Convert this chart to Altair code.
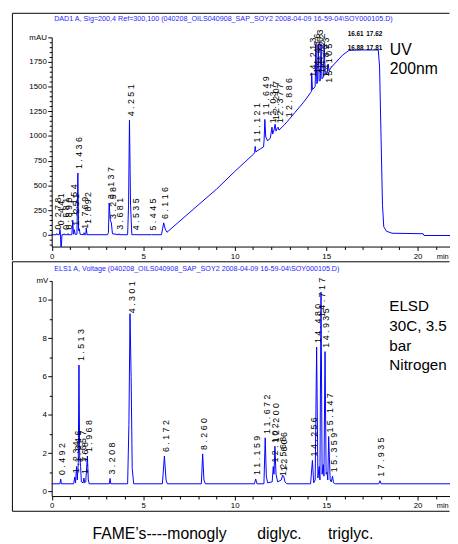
import altair as alt
import pandas as pd

# ---------------- data ----------------
# UV 200 nm trace (min, mAU)
uv_time = [0.00, 0.25, 0.28, 0.31, 0.42, 0.45, 0.48, 0.50, 0.53, 0.56, 0.66, 0.68, 0.71, 0.87, 0.89, 0.92,
           1.10, 1.15, 1.19, 1.24, 1.28, 1.38, 1.43, 1.47, 1.51, 1.55, 1.74, 1.77, 1.80, 1.86, 1.89, 1.93,
           3.05, 3.10, 3.14, 3.20, 3.26, 3.32, 3.66, 3.68, 3.71, 4.15, 4.20, 4.25, 4.31, 4.38, 4.52, 4.535, 4.55,
           5.43, 5.445, 5.46, 6.00, 6.06, 6.12, 6.20, 6.30, 8.00, 9.00, 10.00, 11.05, 11.09, 11.12, 11.16,
           11.40, 11.58, 11.61, 11.65, 11.70, 11.80, 11.95, 12.04, 12.08, 12.15, 12.21, 12.26, 12.33, 12.38,
           12.42, 12.70, 12.89, 13.30, 13.80, 14.15, 14.19, 14.21, 14.25, 14.40, 14.44, 14.49, 14.53, 14.57,
           14.62, 14.68, 14.72, 14.77, 14.86, 14.89, 14.95, 15.06, 15.11, 15.16, 15.25, 15.60, 15.90, 16.25,
           17.00, 17.85, 17.92, 18.00, 18.08, 18.15, 18.30, 18.60, 20.30, 20.35, 21.77]
uv_mau = [0, 0, 12, 0, 0, 55, 5, -120, -120, 0, 0, 10, 0, 0, 12, 0,
          0, 147, 5, 50, 5, 5, 625, 40, 60, 5, 0, 20, 0, 0, 70, 0,
          0, 20, 322, 150, 120, 10, 0, 10, 0, 0, 300, 1160, 300, 0, 0, 5, 0,
          0, 3, 0, 0, 60, 120, 60, 25, 300, 460, 640, 820, 830, 895, 840,
          870, 890, 960, 1168, 990, 950, 980, 1090, 1020, 1060, 1120, 1050, 1080, 1090,
          1060, 1110, 1150, 1240, 1350, 1440, 1450, 1640, 1470, 1500, 1935, 1530, 1540, 1935,
          1560, 1560, 1935, 1580, 1600, 1935, 1620, 1640, 1730, 1660, 1690, 1760, 1820, 1868,
          1872, 1872, 1700, 1000, 300, 80, 35, 15, 10, -8, -8]

# peak labels: retention time and the level where the integrator printed the label
uv_peak_rt = [0.278, 0.441, 0.681, 0.890, 1.154, 1.251, 1.436, 1.769, 1.892, 3.137, 3.258, 3.681,
              4.251, 4.535, 5.445, 6.116, 11.121, 11.649, 12.037, 12.207, 12.377, 12.886,
              14.213, 14.436, 14.563, 14.722, 14.893, 15.105]
uv_label_at = [12, 55, 10, 12, 147, 50, 625, 20, 70, 322, 120, 10,
               1160, 5, 3, 120, 895, 1168, 1090, 1120, 1090, 1150,
               1560, 1600, 1640, 1600, 1560, 1500]

# ELSD trace (min, mV)
elsd_time = [0.00, 0.45, 0.49, 0.53, 1.20, 1.26, 1.30, 1.36, 1.40, 1.45, 1.49, 1.53, 1.58, 1.62, 1.72,
             1.76, 1.80, 1.86, 1.95, 2.00, 2.05, 3.15, 3.19, 3.23, 4.15, 4.22, 4.28, 4.34, 4.40, 4.48,
             6.05, 6.16, 6.25, 6.32, 8.18, 8.25, 8.32, 8.40, 11.08, 11.15, 11.22, 11.60, 11.67, 11.73,
             11.80, 12.05, 12.11, 12.15, 12.20, 12.26, 12.35, 12.55, 12.62, 12.68, 12.75, 12.85, 14.15,
             14.25, 14.32, 14.40, 14.48, 14.55, 14.62, 14.66, 14.72, 14.78, 14.84, 14.88, 14.94, 15.00,
             15.05, 15.09, 15.14, 15.22, 15.28, 15.35, 15.40, 15.50, 17.88, 17.94, 18.00, 21.77]
elsd_mv = [0.4, 0.4, 0.65, 0.4, 0.4, 0.75, 0.45, 1.3, 0.6, 1.5, 6.6, 1.8, 1.3, 0.5, 0.45,
           0.7, 0.45, 0.5, 1.85, 0.6, 0.4, 0.4, 0.68, 0.4, 0.4, 3.5, 9.28, 6.0, 1.2, 0.4,
           0.4, 1.85, 0.6, 0.4, 0.4, 1.96, 0.6, 0.4, 0.4, 0.65, 0.4, 0.4, 2.8, 0.8,
           0.45, 0.5, 1.3, 0.9, 2.36, 0.9, 0.5, 0.6, 0.85, 0.8, 0.5, 0.4, 0.4,
           1.62, 0.45, 0.6, 7.54, 0.7, 1.3, 0.6, 10.4, 0.9, 1.4, 0.8, 7.3, 0.9,
           1.0, 0.6, 2.87, 0.6, 0.5, 0.8, 0.45, 0.4, 0.4, 0.56, 0.4, 0.4]

elsd_peak_rt = [0.492, 1.234, 1.346, 1.513, 1.657, 1.768, 1.968, 3.208, 4.301, 6.172, 8.260,
                11.159, 11.672, 12.102, 12.200, 12.568, 12.606, 14.256, 14.480, 14.717, 14.935,
                15.147, 15.359, 17.935]
elsd_label_at = [0.65, 0.75, 1.3, 6.6, 1.3, 0.7, 1.85, 0.68, 9.1, 1.85, 1.96,
                 0.65, 2.8, 1.3, 2.36, 0.6, 0.85, 1.62, 7.54, 8.9, 7.3,
                 2.87, 0.8, 0.56]

plateau_rt = [16.61, 17.63, 16.61, 17.63]
plateau_y = [2030, 2030, 1890, 1890]
plateau_text = ["16.61", "17.62", "16.88", "17.81"]

x_ticks = list(range(0, 22))
uv_y_ticks = list(range(-100, 2001, 50))
elsd_y_ticks = [v * 0.5 for v in range(0, 23)]

uv_title = "DAD1 A, Sig=200,4 Ref=300,100 (040208_OILS040908_SAP_SOY2 2008-04-09 16-59-04\\SOY000105.D)"
elsd_title = "ELS1 A, Voltage (040208_OILS040908_SAP_SOY2 2008-04-09 16-59-04\\SOY000105.D)"
NB = "\u00a0"
caption = "FAME\u2019s----monogly" + NB * 7 + "diglyc." + NB * 6 + "triglyc."

# ---------------- styling ----------------
SANS = "Liberation Sans, Arial, sans-serif"
BLUE = "#0000ff"
W = 446
H_TOP = 252
H_BOT = 255

xscale = alt.Scale(domain=[0, 21.77], range=[40.5, 446], nice=False, zero=False)
uv_yscale = alt.Scale(domain=[-120, 2000], range=[238, 25], nice=False, zero=False)
elsd_yscale = alt.Scale(domain=[-0.24, 11], range=[239, 19.8], nice=False, zero=False)


def spaced(rt):
    return " ".join(f"{rt:.3f}")


def x_axis(offset):
    return alt.Axis(orient="bottom", offset=offset, values=x_ticks, title=None, grid=False,
                    labelExpr="datum.value % 5 === 0 ? datum.label : ''",
                    tickSize={"condition": {"test": "datum.value % 5 === 0", "value": 4}, "value": 3},
                    domainColor="black", tickColor="black", labelColor="black",
                    labelFont=SANS, labelFontSize=8, labelPadding=2,
                    labelFlush=False, labelOverlap=False)


def y_axis(values, expr, major):
    return alt.Axis(orient="left", offset=-40.5, values=values, title=None, grid=False, format="d",
                    labelExpr=expr,
                    tickSize={"condition": {"test": major, "value": 4}, "value": 2.5},
                    domainColor="black", tickColor="black", labelColor="black",
                    labelFont=SANS, labelFontSize=8, labelPadding=1.5,
                    labelFlush=False, labelOverlap=False)


UV_X = x_axis(-14)
UV_Y = y_axis(uv_y_ticks,
              "datum.value >= 2000 ? 'mAU' : (datum.value >= 0 && datum.value % 250 === 0 ? datum.label : '')",
              "datum.value % 250 === 0")
EL_X = x_axis(-16)
EL_Y = y_axis(elsd_y_ticks,
              "datum.value >= 11 ? 'mV' : (datum.value % 2 === 0 ? datum.label : '')",
              "datum.value % 2 === 0")

one = pd.DataFrame({"a": [0]})


def peak_labels(df, yscale, xa, ya):
    return alt.Chart(df).mark_text(angle=270, align="left", baseline="middle", dx=4, dy=1.5,
                                   font=SANS, fontSize=9, color="black", clip=True).encode(
        x=alt.X("rt:Q", scale=xscale, axis=xa),
        y=alt.Y("top:Q", scale=yscale, axis=ya),
        text="label:N")


def note(text, t, v, yscale, xa, ya, **kw):
    return alt.Chart(one).mark_text(text=text, **kw).encode(
        x=alt.X(datum=t, scale=xscale, axis=xa),
        y=alt.Y(datum=v, scale=yscale, axis=ya))


def frame_rule(**enc):
    return alt.Chart(one).mark_rule(color="black", strokeWidth=1).encode(**enc)


# ---------------- top panel (UV) ----------------
uv_df = pd.DataFrame({"t": uv_time, "v": uv_mau})
uv_lab = pd.DataFrame({"rt": uv_peak_rt, "top": uv_label_at,
                       "label": [spaced(r) for r in uv_peak_rt]})
plat = pd.DataFrame({"rt": plateau_rt, "top": plateau_y, "label": plateau_text})

uv_line = alt.Chart(uv_df).mark_line(color=BLUE, strokeWidth=1, clip=True).encode(
    x=alt.X("t:Q", scale=xscale, axis=UV_X),
    y=alt.Y("v:Q", scale=uv_yscale, axis=UV_Y))

uv_plat = alt.Chart(plat).mark_text(font=SANS, fontSize=6.5, fontWeight="bold", color="black",
                                    align="center", baseline="middle").encode(
    x=alt.X("rt:Q", scale=xscale, axis=UV_X),
    y=alt.Y("top:Q", scale=uv_yscale, axis=UV_Y),
    text="label:N")

top = alt.layer(
    uv_line,
    frame_rule(x=alt.value(0.5), y=alt.value(0.5), y2=alt.value(H_TOP)),
    frame_rule(x=alt.value(0.5), x2=alt.value(W - 0.5), y=alt.value(0.5)),
    peak_labels(uv_lab, uv_yscale, UV_X, UV_Y), uv_plat,
    note(uv_title, 0.134, 2184, uv_yscale, UV_X, UV_Y, font=SANS, fontSize=7.3, color="#1f1fff",
         align="left", baseline="middle"),
    note(["UV", "200nm"], 18.48, 1826, uv_yscale, UV_X, UV_Y, font=SANS, fontSize=16, color="black",
         align="left", baseline="alphabetic", lineHeight=20),
    note("min", 21.05, -226, uv_yscale, UV_X, UV_Y, font=SANS, fontSize=7.5, color="black",
         align="left", baseline="middle"),
).properties(width=W, height=H_TOP)

# ---------------- bottom panel (ELSD) ----------------
elsd_df = pd.DataFrame({"t": elsd_time, "v": elsd_mv})
elsd_lab = pd.DataFrame({"rt": elsd_peak_rt, "top": elsd_label_at,
                         "label": [spaced(r) for r in elsd_peak_rt]})

elsd_line = alt.Chart(elsd_df).mark_line(color=BLUE, strokeWidth=1, clip=True).encode(
    x=alt.X("t:Q", scale=xscale, axis=EL_X),
    y=alt.Y("v:Q", scale=elsd_yscale, axis=EL_Y))

bottom = alt.layer(
    elsd_line,
    frame_rule(x=alt.value(0.5), y=alt.value(0.5), y2=alt.value(H_BOT - 0.5)),
    frame_rule(x=alt.value(0.5), x2=alt.value(W - 0.5), y=alt.value(0.5)),
    frame_rule(x=alt.value(0.5), x2=alt.value(W - 0.5), y=alt.value(H_BOT - 0.5)),
    peak_labels(elsd_lab, elsd_yscale, EL_X, EL_Y),
    note(elsd_title, 0.134, 11.606, elsd_yscale, EL_X, EL_Y, font=SANS, fontSize=7.3, color="#1f1fff",
         align="left", baseline="middle"),
    note(["ELSD", "30C, 3.5", "bar", "Nitrogen"], 18.45, 9.40, elsd_yscale, EL_X, EL_Y, font=SANS,
         fontSize=15.5, color="black", align="left", baseline="alphabetic", lineHeight=20),
    note("min", 21.05, -0.753, elsd_yscale, EL_X, EL_Y, font=SANS, fontSize=7.5, color="black",
         align="left", baseline="middle"),
).properties(width=W, height=H_BOT)

chart = alt.vconcat(top, bottom, spacing=0).properties(
    padding={"left": 4, "top": 0, "right": 0, "bottom": 0},
    title=alt.TitleParams(text=caption, orient="bottom", anchor="middle", font=SANS,
                          fontSize=16, fontWeight="normal", color="black", offset=15, dx=2),
).configure_view(stroke=None).configure_concat(spacing=0)

chart.save("out.html", embed_options={"renderer": "svg", "actions": False})
